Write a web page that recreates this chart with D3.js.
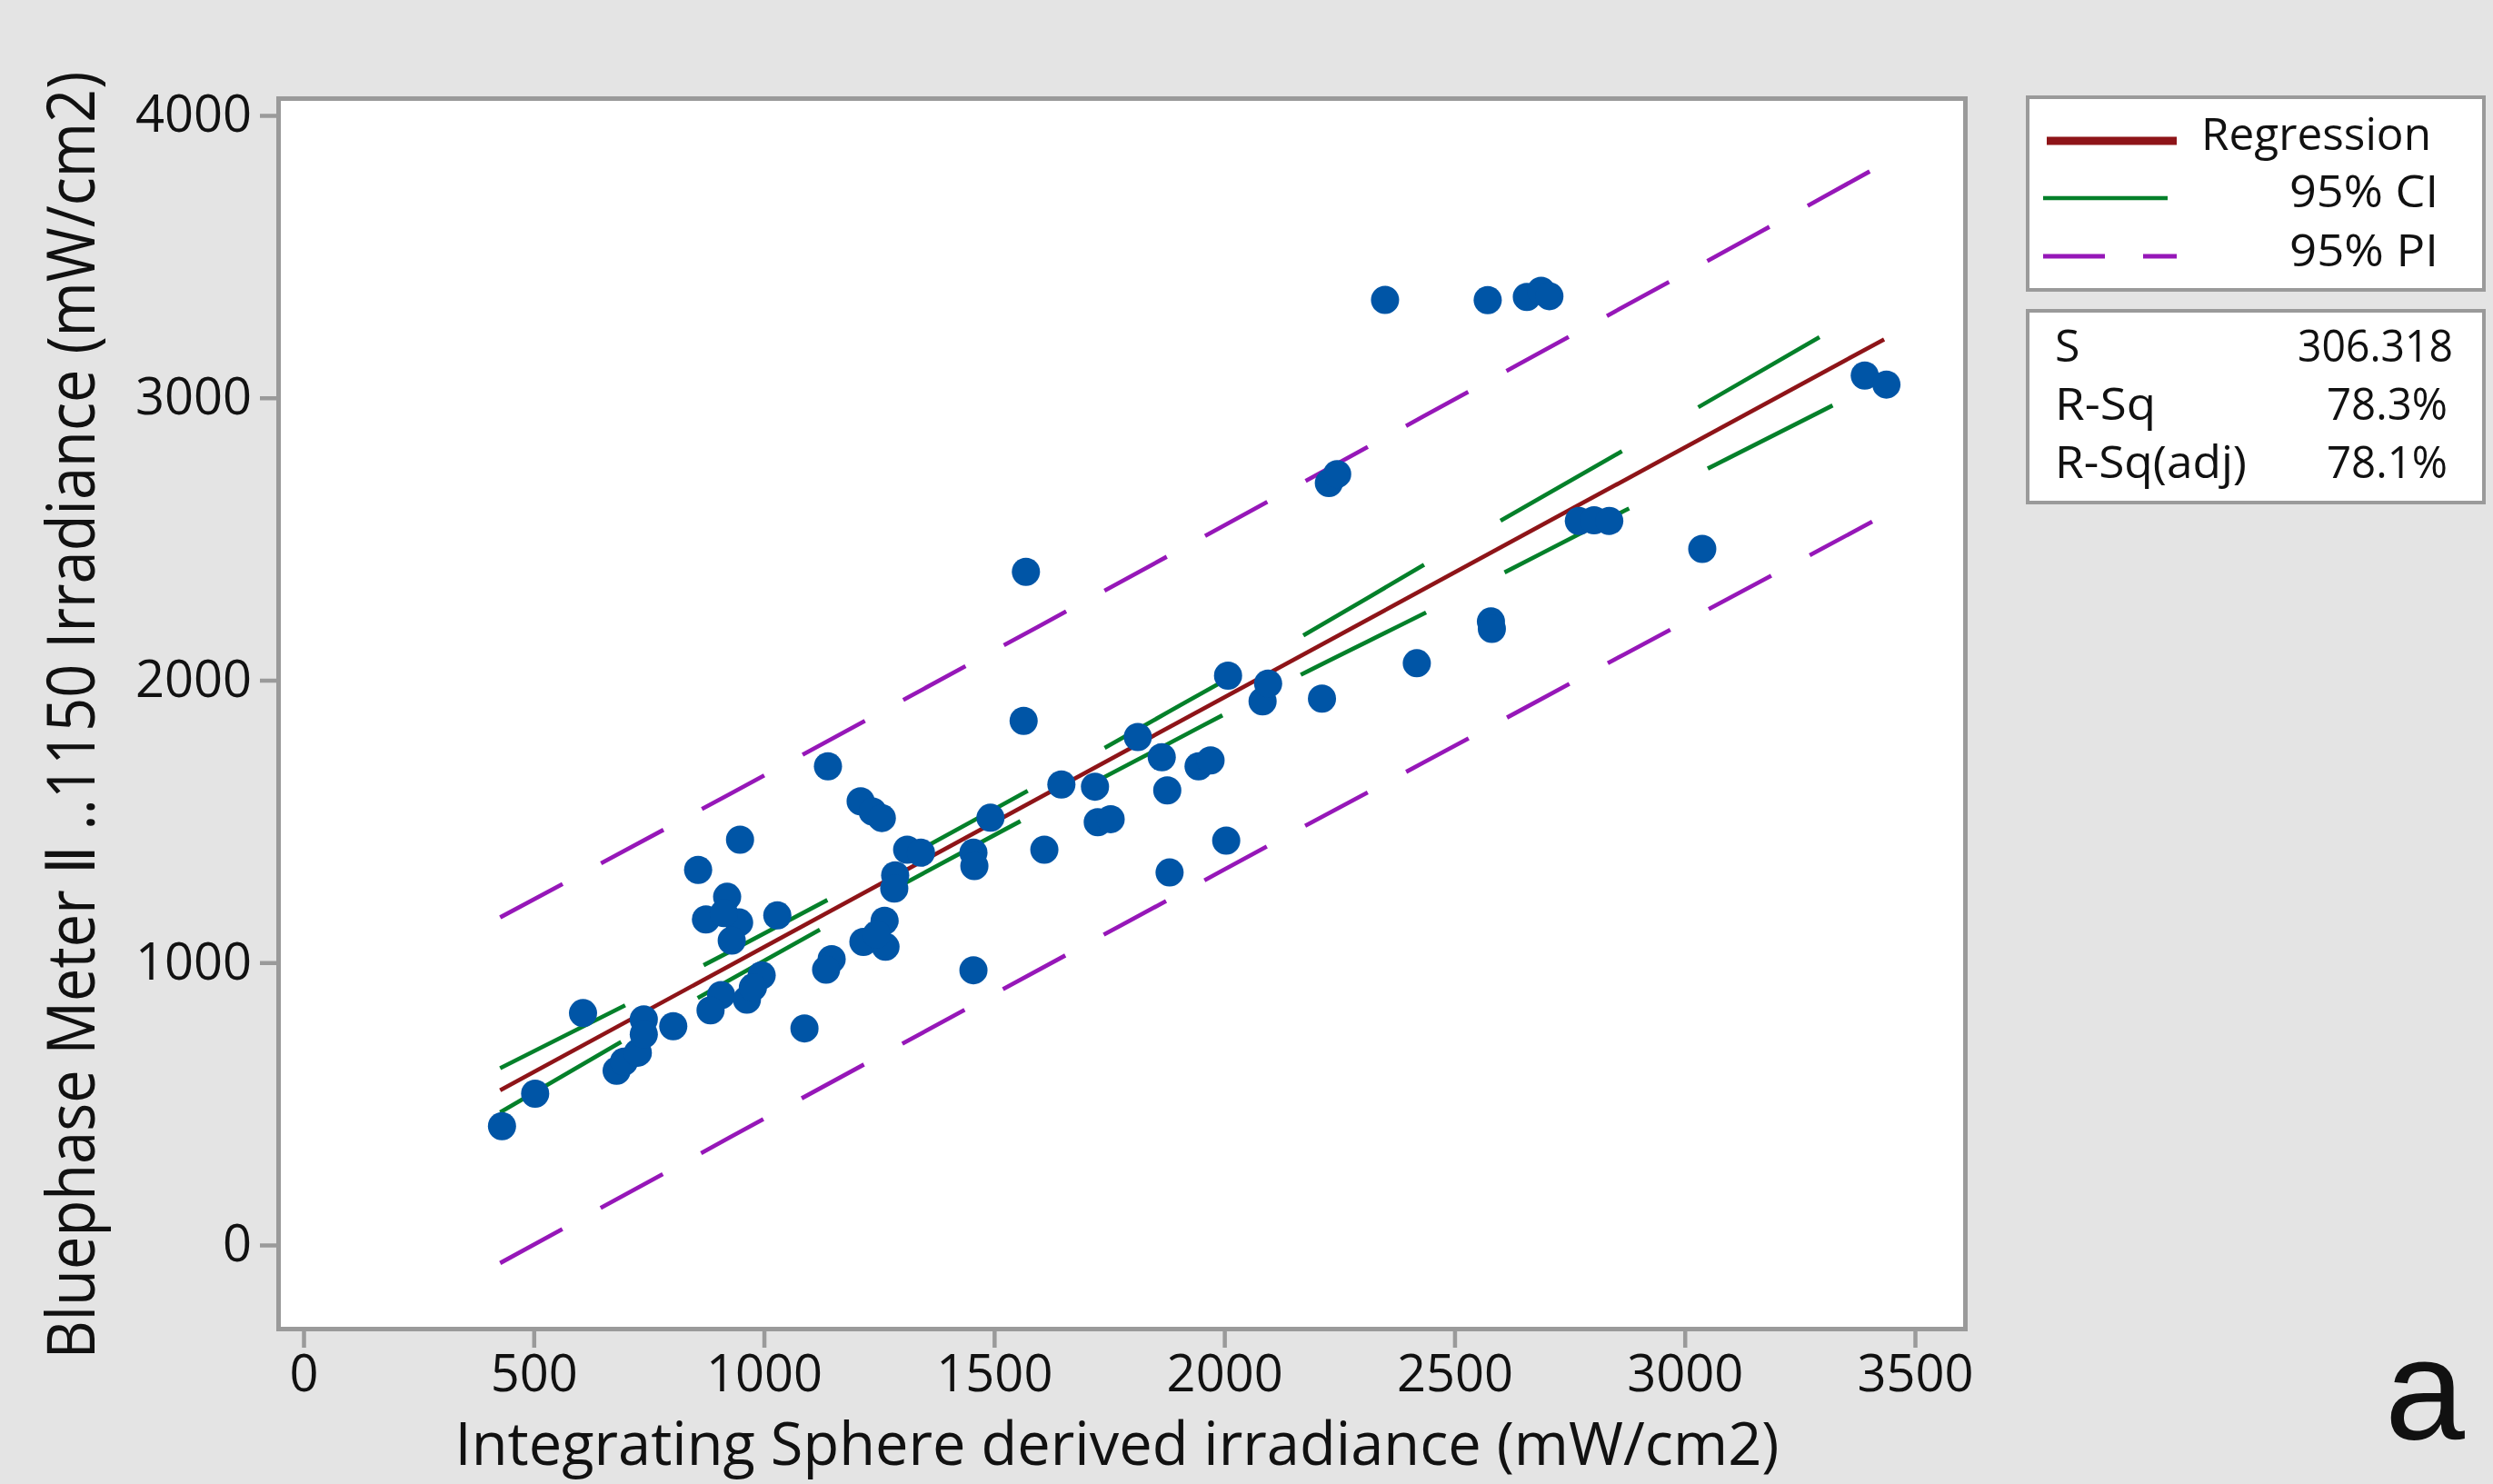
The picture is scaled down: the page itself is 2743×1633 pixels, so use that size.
<!DOCTYPE html>
<html>
<head>
<meta charset="utf-8">
<script src="https://cdn.jsdelivr.net/npm/d3@7"></script>
<style>
  body { margin: 0; background: #e4e4e4; }
  svg { display: block; }
  text { font-family: "Open Sans", "Noto Sans", sans-serif; fill: #111; }
</style>
</head>
<body>
<svg id="chart" width="2743" height="1633"></svg>
<script>
// observed points (Integrating sphere, Bluephase meter)
const ptX = [431, 503, 607, 680, 696, 726, 739, 739, 803, 857, 948, 920, 874, 946, 930, 913, 907, 884, 995, 963,
  976, 1029, 1088, 1139, 1210, 1236, 1256, 1311, 1341, 1285, 1283, 1262, 1216, 1264, 1245, 1147, 1135,
  1564, 1812, 1864, 1944, 1970, 1646, 1719, 1876, 1492, 1725, 1753, 1455, 1457, 1609, 2004, 1881, 1455,
  2349, 1569, 2227, 2245, 2008, 2083, 2095, 2212, 2418,
  2572, 2657, 2688, 2706, 3391, 3438, 2770, 2803, 2836, 3038, 2579, 2581];
const ptY = [421, 536, 821, 617, 649, 681, 799, 746, 775, 1328, 1435, 1233, 1153, 1142, 1078, 1175, 885, 831, 955, 869,
  912, 1167, 767, 1695, 1571, 1535, 1512, 1400, 1389, 1309, 1262, 1148, 1073, 1056, 1100, 1012, 975,
  1856, 1799, 1727, 1695, 1716, 1631, 1623, 1610, 1513, 1497, 1508, 1389, 1342, 1400, 1432, 1319, 973,
  3347, 2384, 2698, 2730, 2016, 1925, 1988, 1935, 2060,
  3346, 3357, 3379, 3360, 3079, 3047, 2564, 2566, 2564, 2465, 2208, 2182];

// fitted line and bands
const regX = [427, 3433];
const regY = [548, 3207];
const fitX = [427, 926, 1509, 1878, 2167, 2431, 2869, 3297, 3433];
const ciUpper = [626, 1039, 1551, 1887, 2154, 2406, 2816, 3219, 3348];
const ciLower = [470, 939, 1459, 1775, 2020, 2234, 2600, 2953, 3066];
const piUpper = [1160, 1597, 2113, 2440, 2697, 2933, 3324, 3707, 3830];
const piLower = [-64, 381, 897, 1222, 1477, 1707, 2092, 2465, 2584];

const xTicks = [0, 500, 1000, 1500, 2000, 2500, 3000, 3500];
const yTicks = [0, 1000, 2000, 3000, 4000];
const legendLabels = ["Regression", "95% CI", "95% PI"];
const statLabels = ["S", "R-Sq", "R-Sq(adj)"];
const statValues = ["306.318", "78.3%", "78.1%"];

const colRed = "#8e1418";
const colGreen = "#04802a";
const colPurple = "#9617b8";
const colPoint = "#0055a6";
const colFrame = "#9a9a9a";

const svg = d3.select("#chart");

// plot frame (outer edges)
const frame = { left: 304, right: 2165, top: 106, bottom: 1465 };

const x = d3.scaleLinear().domain([0, 3500]).range([334, 2107]);
const y = d3.scaleLinear().domain([0, 4000]).range([1370, 127]);

svg.append("rect")
  .attr("x", frame.left + 2.5)
  .attr("y", frame.top + 2.5)
  .attr("width", frame.right - frame.left - 5)
  .attr("height", frame.bottom - frame.top - 5)
  .attr("fill", "#fff")
  .attr("stroke", colFrame)
  .attr("stroke-width", 5);

// axes
const gY = svg.append("g")
  .attr("transform", `translate(${frame.left},0)`)
  .call(d3.axisLeft(y).tickValues(yTicks).tickSize(18).tickPadding(9).tickFormat(d3.format("d")));
const gX = svg.append("g")
  .attr("transform", `translate(0,${frame.bottom})`)
  .call(d3.axisBottom(x).tickValues(xTicks).tickSize(18).tickPadding(8).tickFormat(d3.format("d")));

[gX, gY].forEach(g => {
  g.select(".domain").remove();
  g.selectAll(".tick line").attr("stroke", colFrame).attr("stroke-width", 4.5);
  g.selectAll(".tick text")
    .style("font-family", "'Open Sans', sans-serif")
    .style("font-size", "56px")
    .attr("fill", "#111");
});

// axis titles
svg.append("text")
  .attr("x", 1229)
  .attr("y", 1612)
  .attr("text-anchor", "middle")
  .attr("textLength", 1457)
  .attr("lengthAdjust", "spacingAndGlyphs")
  .style("font-size", "66px")
  .text("Integrating Sphere derived irradiance (mW/cm2)");

// y title: squeeze to the reference length with a scale so its box stays true
const yTitle = svg.append("text")
  .attr("text-anchor", "middle")
  .style("font-size", "74px");
yTitle.append("tspan").text("Bluephase Meter ");
yTitle.append("tspan").style("font-family", "'DejaVu Sans', sans-serif").text("\u2161");
yTitle.append("tspan").text(" ..1150 Irradiance (mW/cm2)");
const yTitleW = yTitle.node().getComputedTextLength();
yTitle.attr("transform", `translate(104,787) rotate(-90) scale(${1417 / yTitleW},1)`);

// fitted lines
const fitLine = d3.line()
  .x(d => x(d[0]))
  .y(d => y(d[1]))
  .curve(d3.curveMonotoneX);

const lines = svg.append("g").attr("fill", "none").attr("stroke-width", 4.6);

[piUpper, piLower].forEach(arr => {
  lines.append("path")
    .attr("d", fitLine(fitX.map((v, i) => [v, arr[i]])))
    .attr("stroke", colPurple)
    .attr("stroke-dasharray", "78 48");
});

[ciUpper, ciLower].forEach(arr => {
  lines.append("path")
    .attr("d", fitLine(fitX.map((v, i) => [v, arr[i]])))
    .attr("stroke", colGreen)
    .attr("stroke-dasharray", "154 97");
});

lines.append("path")
  .attr("d", fitLine(regX.map((v, i) => [v, regY[i]])))
  .attr("stroke", colRed);

// points on top of lines
svg.append("g")
  .selectAll("circle")
  .data(ptX.map((v, i) => [v, ptY[i]]))
  .join("circle")
  .attr("cx", d => x(d[0]))
  .attr("cy", d => y(d[1]))
  .attr("r", 15.5)
  .attr("fill", colPoint);

// legend box
const legend = svg.append("g");
legend.append("rect")
  .attr("x", 2231).attr("y", 107)
  .attr("width", 502).attr("height", 212)
  .attr("fill", "#fff").attr("stroke", colFrame).attr("stroke-width", 4);

legend.append("line")
  .attr("x1", 2252).attr("x2", 2395).attr("y1", 155).attr("y2", 155)
  .attr("stroke", colRed).attr("stroke-width", 9);
legend.append("line")
  .attr("x1", 2248).attr("x2", 2385).attr("y1", 218).attr("y2", 218)
  .attr("stroke", colGreen).attr("stroke-width", 4.5);
legend.append("line")
  .attr("x1", 2248).attr("x2", 2395).attr("y1", 282).attr("y2", 282)
  .attr("stroke", colPurple).attr("stroke-width", 5)
  .attr("stroke-dasharray", "68 42");

legend.append("text")
  .attr("x", 2422).attr("y", 165)
  .attr("textLength", 253).attr("lengthAdjust", "spacingAndGlyphs")
  .style("font-size", "50px")
  .text(legendLabels[0]);
legendLabels.slice(1).forEach((t, i) => {
  legend.append("text")
    .attr("x", 2683).attr("y", 228 + i * 65)
    .attr("text-anchor", "end")
    .attr("textLength", 164).attr("lengthAdjust", "spacingAndGlyphs")
    .style("font-size", "50px")
    .text(t);
});

// statistics box
const stats = svg.append("g");
stats.append("rect")
  .attr("x", 2231).attr("y", 342)
  .attr("width", 502).attr("height", 211)
  .attr("fill", "#fff").attr("stroke", colFrame).attr("stroke-width", 4);

const labelWidths = [null, 111, 211];
const valueWidths = [171, 133, 133];
const valueRight = [2699, 2693, 2693];
statLabels.forEach((t, i) => {
  const lbl = stats.append("text")
    .attr("x", 2261).attr("y", 398 + i * 64)
    .style("font-size", "50px")
    .text(t);
  if (labelWidths[i]) lbl.attr("textLength", labelWidths[i]).attr("lengthAdjust", "spacingAndGlyphs");
  stats.append("text")
    .attr("x", valueRight[i]).attr("y", 398 + i * 64)
    .attr("text-anchor", "end")
    .attr("textLength", valueWidths[i]).attr("lengthAdjust", "spacingAndGlyphs")
    .style("font-size", "50px")
    .text(statValues[i]);
});

// panel letter
svg.append("text")
  .attr("x", 2624).attr("y", 1583)
  .style("font-family", "'Liberation Sans', Arial, sans-serif")
  .style("font-size", "158px")
  .attr("fill", "#000")
  .text("a");
</script>
</body>
</html>
